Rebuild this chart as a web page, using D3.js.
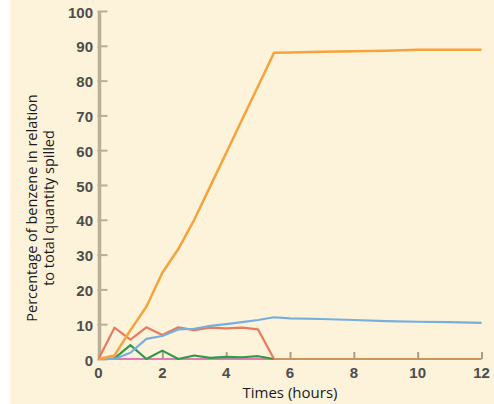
<!DOCTYPE html>
<html><head><meta charset="utf-8">
<script src="https://cdn.jsdelivr.net/npm/d3@7"></script>
<style>
html,body{margin:0;padding:0;background:#fff;}
svg{display:block;}
</style></head>
<body>
<script>
const hours = [0,0.5,1,1.5,2,2.5,3,3.5,4,4.5,5,5.5,6,7,8,9,10,11,12];
const orange = [0,1,8.3,15,24.8,31.6,40,49.6,59.2,68.8,78.4,88,88.1,88.3,88.4,88.6,88.9,88.9,88.9];
const blue = [0,0,1.8,5.8,6.6,8.5,8.7,9.5,10,10.6,11.2,12,11.7,11.5,11.2,10.9,10.7,10.6,10.4];
const redHours = [0,0.5,1,1.5,2,2.5,3,3.5,4,4.5,5,5.5];
const red = [0,9,5.6,9.1,6.9,9.1,8.3,9,8.8,9,8.5,0];
const green = [0,0.2,4,0,2.4,0,1,0.3,0.6,0.5,0.8,0];
const pinkHours = [0,5.5];
const pink = [0,0];
const xTicks = [0,2,4,6,8,10,12];
const yTicks = [0,10,20,30,40,50,60,70,80,90,100];

const W=494,H=404;
const svg=d3.select("body").append("svg").attr("width",W).attr("height",H);
svg.append("rect").attr("x",10).attr("y",0).attr("width",W-10).attr("height",H).attr("fill","#fcf3da");

const x=d3.scaleLinear().domain([0,12]).range([98.5,481.5]);
const y=d3.scaleLinear().domain([0,100]).range([359,11]);

// y axis
const yAxis=svg.append("g").attr("transform","translate(99.5,0)")
  .call(d3.axisRight(y).tickValues(yTicks).tickSize(8).tickFormat(()=>""));
yAxis.select(".domain").attr("stroke","#b9af99").attr("stroke-width",3.5).attr("d","M0,"+y(100)+"V"+y(0));
yAxis.selectAll(".tick line").attr("stroke","#b9af99").attr("stroke-width",2).attr("x1",-2);
svg.append("g").selectAll("text").data(yTicks).join("text")
  .attr("x",93).attr("y",d=>y(d)+6.5).attr("text-anchor","end")
  .attr("font-family","Liberation Sans, Arial, sans-serif").attr("font-size",15).attr("font-weight","bold")
  .attr("fill","#4d4d4d").text(d=>d);

// x axis
const xAxis=svg.append("g").attr("transform","translate(0,"+y(0)+")")
  .call(d3.axisTop(x).tickValues(xTicks.filter(d=>d>0)).tickSize(7).tickFormat(()=>""));
xAxis.select(".domain").attr("stroke","#c9955a").attr("stroke-width",2.2).attr("d","M"+x(0)+",0H"+x(12));
xAxis.selectAll(".tick line").attr("stroke","#a89f8a").attr("stroke-width",2);
svg.append("g").selectAll("text").data(xTicks).join("text")
  .attr("x",d=>x(d)).attr("y",378).attr("text-anchor","middle")
  .attr("font-family","Liberation Sans, Arial, sans-serif").attr("font-size",15).attr("font-weight","bold")
  .attr("fill","#4d4d4d").text(d=>d);

// lines
const line=(xs,ys)=>d3.line().x((d,i)=>x(xs[i])).y(d=>y(d))(ys);
const series=[
  {xs:pinkHours,ys:pink,c:"#e27ab6",w:2},
  {xs:redHours,ys:green,c:"#2f9a48",w:2.2},
  {xs:redHours,ys:red,c:"#ea7a5e",w:2.2},
  {xs:hours,ys:blue,c:"#77aee0",w:2.2},
  {xs:hours,ys:orange,c:"#f7a33c",w:2.5}
];
svg.append("g").selectAll("path").data(series).join("path")
  .attr("d",s=>line(s.xs,s.ys)).attr("fill","none")
  .attr("stroke",s=>s.c).attr("stroke-width",s=>s.w).attr("stroke-linejoin","round");

// titles
svg.append("text").attr("x",290).attr("y",398).attr("text-anchor","middle")
  .attr("font-family","Open Sans, sans-serif").attr("font-size",15).attr("fill","#1a1a1a")
  .text("Times (hours)");
const yt=svg.append("text").attr("transform","translate(0,208) rotate(-90)")
  .attr("text-anchor","middle").attr("font-family","Open Sans, sans-serif")
  .attr("font-size",14.5).attr("fill","#1a1a1a");
yt.append("tspan").attr("x",0).attr("y",37).text("Percentage of benzene in relation");
yt.append("tspan").attr("x",0).attr("y",54).text("to total quantity spilled");
</script>
</body></html>
